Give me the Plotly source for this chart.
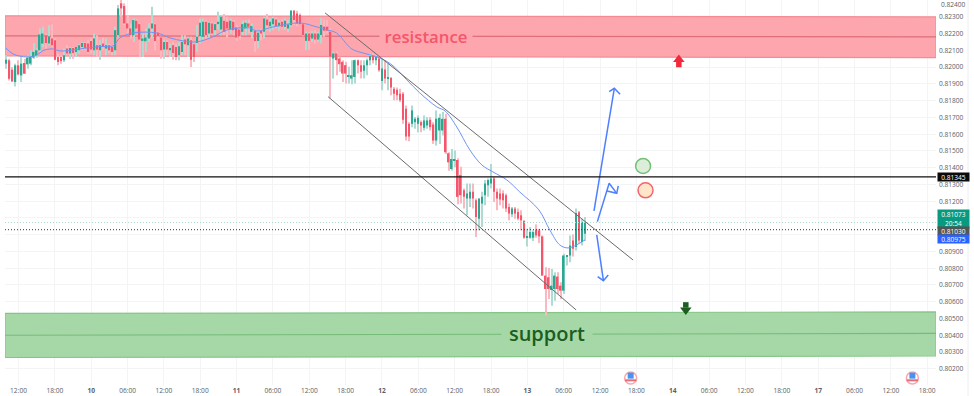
import plotly.graph_objects as go

# ---------- data (prices in 1e-5 units) ----------
first_bar = -4
open_pts = [82021,82041,81985,81911,82011,81951,82025,82017,82021,82057,
82071,82101,82141,82191,82141,82171,82161,82061,82061,82041,
82111,82081,82115,82091,82101,82121,82145,82141,82157,82101,
82131,82101,82141,82111,82131,82121,82101,82191,82381,82365,
82261,82231,82191,82277,82257,82157,82155,82171,82231,82257,
82207,82177,82105,82151,82101,82131,82121,82071,82091,82165,
82131,82161,82137,82145,82185,82181,82271,82201,82261,82221,
82257,82225,82277,82271,82225,82271,82237,82225,82211,82231,
82261,82211,82217,82157,82217,82211,82285,82245,82257,82285,
82245,82271,82241,82231,82251,82337,82321,82311,82257,82157,
82201,82171,82201,82165,
82192,82242,82242,82212,82052,82082,82052,82032,82012,81942,
81932,81942,82042,82012,81978,82012,82042,82066,82042,82052,
81918,81986,81932,81936,81872,81866,81842,81842,81752,81662,
81662,81672,81662,81672,81638,81652,81686,81658,81562,81622,
81622,81692,81486,81392,81442,81446,81356,81266,81216,81216,
81256,81206,81096,81186,81236,81296,81306,81336,81256,81246,
81246,81236,81166,81122,81156,81136,81116,81082,80982,80982,
80982,81030,81026,80990,80756,80746,80670,80676,80750,80696,
80666,80870,80876,80966,80926,81134,80956,81006]
high_pts = [82071,82051,82001,82021,82041,82061,82051,82071,82101,82145,
82111,82231,82241,82201,82251,82257,82171,82081,82071,82111,
82131,82121,82121,82121,82137,82151,82151,82161,82171,82201,
82191,82161,82177,82171,82141,82131,82241,82371,82401,82381,
82311,82261,82291,82285,82261,82201,82231,82261,82361,82261,
82211,82181,82165,82161,82141,82151,82141,82151,82191,82191,
82181,82181,82141,82251,82291,82291,82281,82271,82271,82265,
82331,82311,82317,82301,82291,82281,82251,82231,82277,82281,
82285,82261,82221,82221,82231,82301,82317,82291,82301,82297,
82281,82285,82291,82281,82341,82341,82337,82321,82261,82211,
82211,82217,82221,82211,
82292,82286,82282,82232,82092,82092,82062,82042,82032,82002,
82042,82046,82046,82042,82042,82052,82082,82082,82072,82062,
82052,82042,82022,81942,81882,81878,81872,81852,81772,81672,
81772,81702,81712,81682,81712,81702,81702,81672,81742,81722,
81732,81722,81492,81512,81502,81456,81406,81276,81306,81306,
81306,81216,81216,81256,81326,81336,81422,81346,81276,81276,
81266,81246,81186,81166,81166,81156,81146,81090,81036,81046,
81026,81062,81036,80996,80806,80802,80796,80776,80776,80716,
80886,80876,80996,81002,81156,81142,81096,81106]
low_pts = [81991,81921,81911,81885,81951,81911,81961,81991,82011,82051,
82057,82091,82121,82111,82131,82121,82041,82011,82021,82031,
82071,82051,82051,82061,82081,82101,82101,82081,82081,82071,
82061,82045,82101,82071,82081,82071,82071,82181,82301,82251,
82201,82171,82151,82221,82061,82061,82091,82151,82171,82101,
82165,82051,82051,82071,82061,82045,82041,82041,82071,82071,
82061,82001,82031,82091,82141,82165,82161,82177,82191,82191,
82225,82191,82191,82177,82201,82191,82157,82165,82191,82191,
82201,82171,82091,82111,82161,82171,82217,82211,82221,82231,
82217,82225,82221,82211,82241,82251,82245,82251,82185,82101,
82105,82151,82141,82151,
82142,82182,82202,81812,81932,81952,81972,81912,81902,81902,
81898,81902,81962,81932,81932,81952,82012,82022,82012,81972,
81862,81902,81862,81832,81802,81802,81792,81662,81562,81558,
81642,81632,81612,81612,81622,81632,81622,81542,81532,81542,
81592,81482,81382,81382,81402,81182,81186,81156,81116,81166,
81156,80986,81026,81046,81176,81226,81276,81196,81146,81176,
81156,81136,81086,81106,81096,81086,81026,80976,80930,80976,
80962,80982,80950,80756,80516,80616,80576,80606,80646,80616,
80646,80816,80836,80870,80906,80946,80936,80962]
close_pts = [82045,81931,81915,82011,81957,82021,81961,82057,82061,82091,
82101,82195,82201,82145,82185,82131,82045,82031,82037,82071,
82081,82115,82085,82121,82131,82145,82115,82091,82105,82171,
82105,82131,82121,82131,82101,82091,82221,82351,82351,82261,
82231,82191,82281,82231,82165,82171,82177,82231,82261,82157,
82185,82101,82151,82105,82115,82085,82061,82125,82151,82137,
82171,82045,82061,82181,82265,82271,82191,82265,82201,82257,
82271,82301,82211,82231,82277,82221,82177,82185,82257,82265,
82241,82245,82157,82205,82201,82291,82251,82271,82291,82245,
82265,82241,82277,82257,82337,82281,82261,82257,82191,82201,
82157,82201,82165,82201,
82252,82218,82218,82062,82082,82042,82018,81962,81962,81952,
81952,82042,82012,81972,82012,82042,82066,82042,82062,81982,
81992,81932,81942,81878,81842,81832,81802,81686,81586,81586,
81742,81692,81698,81652,81682,81682,81642,81562,81692,81698,
81692,81492,81432,81452,81452,81226,81236,81226,81246,81256,
81216,81106,81216,81226,81306,81326,81336,81256,81216,81210,
81206,81156,81126,81156,81126,81096,81086,80982,80990,81016,
81016,80996,80990,80756,80676,80676,80696,80756,80676,80666,
80876,80876,80936,80916,81130,80966,81076,81073]

ema_bars = [-4.2,-1.8,2.8,6.1,8.1,11.1,13.7,18,22.6,26.9,31.2,33.5,37.8,45.7,50,54.3,58.9,64.2,68.8,76.4,78.7,84,92.9,98.5,102.1,105,110,113.7,119.3,123.3,128.2,132.5,138.1,140.8,144.7,149,153,156.6,161.2,165.5,171.8,175.4,178.7,181.4,184.2,187]
ema_pts = [82115,82079,82061,82073,82099,82109,82097,82103,82115,82123,82127,82175,82204,82204,82175,82157,82151,82181,82222,82234,82216,82240,82264,82240,82222,82204,82109,82085,82055,82013,81924,81846,81763,81739,81643,81506,81416,81375,81327,81255,81148,81028,80939,80921,80939,80969]

tick_step = 12
time_labels = ["12:00","18:00","<b>10</b>","06:00","12:00","18:00","<b>11</b>","06:00","12:00","18:00","<b>12</b>","06:00","12:00","18:00","<b>13</b>","06:00","12:00","18:00","<b>14</b>","06:00","12:00","18:00","<b>17</b>","06:00","12:00","18:00"]
price_ticks = [80200 + 100*k for k in range(23)]
covered_ticks = [81000, 81100]   # hidden behind the price tags in the reference
clipped_tick = 82400

level_black = 81345
level_last = 81073
level_prev = 81030
level_ema = 80975
countdown = "20:54"

res_x = [-4.46, 302.9]
res_top = [82307, 82300]
res_mid = [82187, 82181]
res_bot = [82067, 82057]
sup_top = [80530, 80539]
sup_mid = [80400, 80411]
sup_bot = [80267, 80276]

channel_up_x, channel_up_y = [101.2, 202.9], [82324, 80849]
channel_lo_x, channel_lo_y = [102.2, 184.1], [81824, 80551]
arrow_long_x = [190.0, 196.7, None, 195.0, 196.7, 198.6]
arrow_long_y = [81142, 81874, None, 81854, 81874, 81839]
arrow_zig_x = [191.1, 195.0, 197.5, None, 194.3, 197.5, 198.0]
arrow_zig_y = [81078, 81307, 81247, None, 81261, 81247, 81291]
arrow_down_x = [190.9, 193.1, None, 191.2, 193.1, 194.7]
arrow_down_y = [80999, 80726, None, 80750, 80726, 80760]

circle_green = (206.2, 81410)
circle_orange = (207.0, 81265)
arrow_red_bar, arrow_red_head, arrow_red_stem = 218.0, 82046, 82016
arrow_green_bar, arrow_green_head, arrow_green_stem = 220.3, 80551, 80581
flag_bars = [202.1, 295.1]
flag_pts = 80145
resistance_label = (134.5, 82184)
support_label = (174.5, 80411)

# ---------- colours ----------
UP, DOWN = "#2aa892", "#f6566c"
UP_W, DOWN_W = "#aedcd3", "#fab9c1"
BLUE = "#4d7fff"
GRID = "#f3f4f6"
TXT = "#5a5e66"
FONT = "Open Sans"
TICK_SIZE = 6.6

def p(v):
    return v / 100000

bars = list(range(first_bar, first_bar + len(close_pts)))
o = [p(v) for v in open_pts]
h = [p(v) for v in high_pts]
l = [p(v) for v in low_pts]
c = [p(v) for v in close_pts]
rising = [b >= a for a, b in zip(o, c)]

fig = go.Figure()

# wicks, then bodies, through the value axis
fig.add_trace(go.Bar(x=bars, y=[a - b for a, b in zip(h, l)], base=l, width=0.36,
                     marker=dict(color=[UP_W if r else DOWN_W for r in rising], line=dict(width=0)),
                     hoverinfo="skip", showlegend=False))
fig.add_trace(go.Bar(x=bars, y=[abs(a - b) for a, b in zip(o, c)],
                     base=[min(a, b) for a, b in zip(o, c)], width=0.5,
                     marker=dict(color=[UP if r else DOWN for r in rising], line=dict(width=0)),
                     hoverinfo="skip", showlegend=False))

fig.add_trace(go.Scatter(x=ema_bars, y=[p(v) for v in ema_pts], mode="lines",
                         line=dict(color="#6f94f7", width=1, shape="spline"),
                         hoverinfo="skip", showlegend=False))

for xs, ys in [(channel_up_x, channel_up_y), (channel_lo_x, channel_lo_y)]:
    fig.add_trace(go.Scatter(x=xs, y=[p(v) for v in ys], mode="lines",
                             line=dict(color="#6b6b6b", width=1),
                             hoverinfo="skip", showlegend=False))

for xs, ys in [(arrow_long_x, arrow_long_y), (arrow_zig_x, arrow_zig_y), (arrow_down_x, arrow_down_y)]:
    fig.add_trace(go.Scatter(x=xs, y=[None if v is None else p(v) for v in ys], mode="lines",
                             line=dict(color=BLUE, width=1.5),
                             hoverinfo="skip", showlegend=False))

for pt, fill, edge in [(circle_green, "#dcedda", "#72bf75"), (circle_orange, "#ffe6c8", "#f4646e")]:
    fig.add_trace(go.Scatter(x=[pt[0]], y=[p(pt[1])], mode="markers",
                             marker=dict(size=15, color=fill, line=dict(color=edge, width=1.5)),
                             hoverinfo="skip", showlegend=False))

for bar, head, stem, col, sym in [
    (arrow_red_bar, arrow_red_head, arrow_red_stem, "#f4283c", "triangle-up"),
    (arrow_green_bar, arrow_green_head, arrow_green_stem, "#1b5e20", "triangle-down"),
]:
    fig.add_trace(go.Scatter(x=[bar], y=[p(stem)], mode="markers",
                             marker=dict(size=5.5, color=col, symbol="square"),
                             hoverinfo="skip", showlegend=False))
    fig.add_trace(go.Scatter(x=[bar], y=[p(head)], mode="markers",
                             marker=dict(size=10, color=col, symbol=sym),
                             hoverinfo="skip", showlegend=False))

# economic-calendar flag icons
fig.add_trace(go.Scatter(x=flag_bars, y=[p(flag_pts)]*2, mode="markers",
                         marker=dict(size=12, color="#ffffff", line=dict(color="#f8a5ab", width=1.5)),
                         hoverinfo="skip", showlegend=False))
fig.add_trace(go.Scatter(x=flag_bars, y=[p(flag_pts + 14)]*2, mode="markers",
                         marker=dict(size=6, color="#4a92f2", symbol="square"),
                         hoverinfo="skip", showlegend=False))
fig.add_trace(go.Scatter(x=flag_bars, y=[p(flag_pts - 14)]*2, mode="markers",
                         marker=dict(size=8, symbol="line-ew", line=dict(color="#ef6a72", width=2)),
                         hoverinfo="skip", showlegend=False))

def zone(top_v, bot_v, fill, edge):
    d = (f"M {res_x[0]},{p(top_v[0])} L {res_x[1]},{p(top_v[1])} "
         f"L {res_x[1]},{p(bot_v[1])} L {res_x[0]},{p(bot_v[0])} Z")
    fig.add_shape(type="path", path=d, fillcolor=fill, line=dict(color=edge, width=1.2), layer="between")

def mid(v, col):
    fig.add_shape(type="line", x0=res_x[0], x1=res_x[1], y0=p(v[0]), y1=p(v[1]),
                  line=dict(color=col, width=1.1), layer="between")

zone(res_top, res_bot, "#fda6ae", "#f58a94")
mid(res_mid, "#dd6f78")
zone(sup_top, sup_bot, "#a5d7a7", "#85c688")
mid(sup_mid, "#74bd78")

fig.add_shape(type="line", x0=res_x[0], x1=res_x[1], y0=p(level_black), y1=p(level_black),
              line=dict(color="#111111", width=1.4), layer="above")
fig.add_shape(type="line", x0=res_x[0], x1=res_x[1], y0=p(level_prev), y1=p(level_prev),
              line=dict(color="#333333", width=1, dash="1px,2px"), layer="above")
fig.add_shape(type="line", x0=res_x[0], x1=res_x[1], y0=p(level_last), y1=p(level_last),
              line=dict(color="#a9d8ce", width=1, dash="1px,2px"), layer="above")
fig.add_shape(type="line", xref="paper", yref="paper", x0=1.0344, x1=1.0344, y0=-0.03, y1=1,
              line=dict(color="#eceef1", width=1), layer="below")

def tag(v, text, bg, fg="#ffffff", height=8):
    fig.add_annotation(xref="paper", x=1.0008, xanchor="left", yref="y", y=p(v), yanchor="middle",
                       text=text, showarrow=False, width=31, height=height, bgcolor=bg,
                       borderpad=0, align="center",
                       font=dict(family=FONT, size=6.6, color=fg))

tag(level_black, f"{p(level_black):.5f}", "#0b0b0b")
tag(level_last + 21, f"{p(level_last):.5f}<br>{countdown}", "#089981", height=18)
tag(level_prev - 5, f"{p(level_prev):.5f}", "#555555")
tag(level_ema, f"{p(level_ema):.5f}", "#2962ff")

# top tick label, kept fully inside the page
fig.add_annotation(xref="paper", x=1.0048, xanchor="left", yref="paper", y=1, yanchor="top",
                   text=f"{p(clipped_tick):.5f}", showarrow=False, borderpad=0, yshift=1,
                   font=dict(family=FONT, size=TICK_SIZE, color=TXT))

fig.add_annotation(x=resistance_label[0], y=p(resistance_label[1]), text="resistance", showarrow=False,
                   width=92, height=28, bgcolor="#fda6ae", borderpad=0,
                   font=dict(family=FONT, size=16.8, color="#f4566a", weight=600))
fig.add_annotation(x=support_label[0], y=p(support_label[1]), text="support", showarrow=False,
                   width=90, height=30, bgcolor="#a5d7a7", borderpad=0,
                   font=dict(family=FONT, size=20, color="#1b5e20", weight=600))

fig.update_layout(
    width=974, height=396, autosize=False,
    margin=dict(l=5, r=38, t=0, b=11, pad=0),
    plot_bgcolor="#ffffff", paper_bgcolor="#ffffff",
    showlegend=False, hovermode=False, barmode="overlay",
    xaxis=dict(range=[-4.46, 302.9],
               tickmode="array", tickvals=[k*tick_step for k in range(len(time_labels))],
               ticktext=time_labels, showgrid=True, gridcolor=GRID, gridwidth=1,
               ticks="", zeroline=False, showline=False,
               tickfont=dict(family=FONT, size=TICK_SIZE, color=TXT)),
    yaxis=dict(range=[p(80103), p(82401)], side="right",
               tickmode="array", tickvals=[p(v) for v in price_ticks],
               ticktext=["" if v in covered_ticks else f"{p(v):.5f}" for v in price_ticks],
               showgrid=True, gridcolor=GRID, gridwidth=1,
               ticks="", zeroline=False, showline=False, ticklabelstandoff=2,
               tickfont=dict(family=FONT, size=TICK_SIZE, color=TXT)),
)

fig.write_html("out.html", config=dict(displayModeBar=False),
               post_script="document.body.style.margin='0';document.body.style.overflow='hidden';")
